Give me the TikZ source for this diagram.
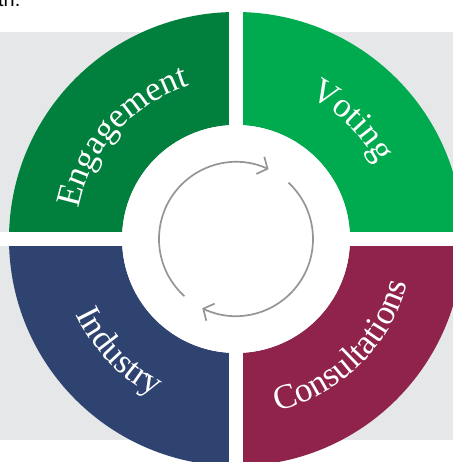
\documentclass[tikz,border=0pt]{standalone}
\usepackage{fontspec}
\setmainfont{Liberation Serif}
\newfontfamily\notefont{Liberation Sans}
\usetikzlibrary{decorations.text,arrows.meta}
\definecolor{bandgray}{HTML}{E6E7E8}
\definecolor{engagegreen}{HTML}{007F3D}
\definecolor{votegreen}{HTML}{00AB4F}
\definecolor{industryblue}{HTML}{2F4371}
\definecolor{consultred}{HTML}{8F234C}
\definecolor{cyclegray}{HTML}{959598}
\newcommand\ringlabel{\fontsize{35}{35}\selectfont}

\begin{document}
\begin{tikzpicture}[x=1bp,y=1bp,
  cyclearrow/.style={draw=cyclegray, line width=1.7bp,
    -{Straight Barb[length=8bp,width=19bp,line width=1.7bp]}},
  ringtext/.style={decorate, decoration={text along path, text align=center,
    text color=white, text={|\ringlabel|#1}}}]
% page frame
\useasboundingbox (-236,-223) rectangle (217,239);
\clip (-236,-223) rectangle (217,239);
\fill[white] (-236,-223) rectangle (217,239);
% tail of the preceding sentence
\node[anchor=base west, inner sep=0, font=\notefont\fontsize{20}{20}\selectfont] (tail) at (-238,232) {th.};
% grey band behind the wheel
\fill[bandgray] (-236,-201) rectangle (217,207);
% the four quarters of the ring
\def\rin{114}\def\rout{227}
\fill[engagegreen] (90:\rin) -- (90:\rout) arc[start angle=90,end angle=180,radius=\rout] -- (180:\rin) arc[start angle=180,end angle=90,radius=\rin] -- cycle;
\fill[votegreen] (0:\rin) -- (0:\rout) arc[start angle=0,end angle=90,radius=\rout] -- (90:\rin) arc[start angle=90,end angle=0,radius=\rin] -- cycle;
\fill[industryblue] (180:\rin) -- (180:\rout) arc[start angle=180,end angle=270,radius=\rout] -- (270:\rin) arc[start angle=270,end angle=180,radius=\rin] -- cycle;
\fill[consultred] (270:\rin) -- (270:\rout) arc[start angle=270,end angle=360,radius=\rout] -- (0:\rin) arc[start angle=360,end angle=270,radius=\rin] -- cycle;
% white hub
\fill[white] (0,0) circle[radius=\rin];
% white cross separating the quarters
\fill[white] (-236,-7.5) rectangle (217,7.3);
\fill[white] (-7,-223) rectangle (6.8,239);
% cycle arrows in the hub
\draw[cyclearrow] (228:77) arc[start angle=228,end angle=65,radius=77];
\draw[cyclearrow] (47:77) arc[start angle=47,end angle=-116,radius=77];
% curved labels
\path[ringtext=Engagement] (188:160) arc[start angle=188,end angle=88,radius=160];
\path[ringtext=Voting] (95:160) arc[start angle=95,end angle=-4,radius=160];
\path[ringtext=Industry] (174:177) arc[start angle=174,end angle=274,radius=177];
\path[ringtext=Consultations] (-95:177) arc[start angle=-95,end angle=4,radius=177];
\end{tikzpicture}
\end{document}
